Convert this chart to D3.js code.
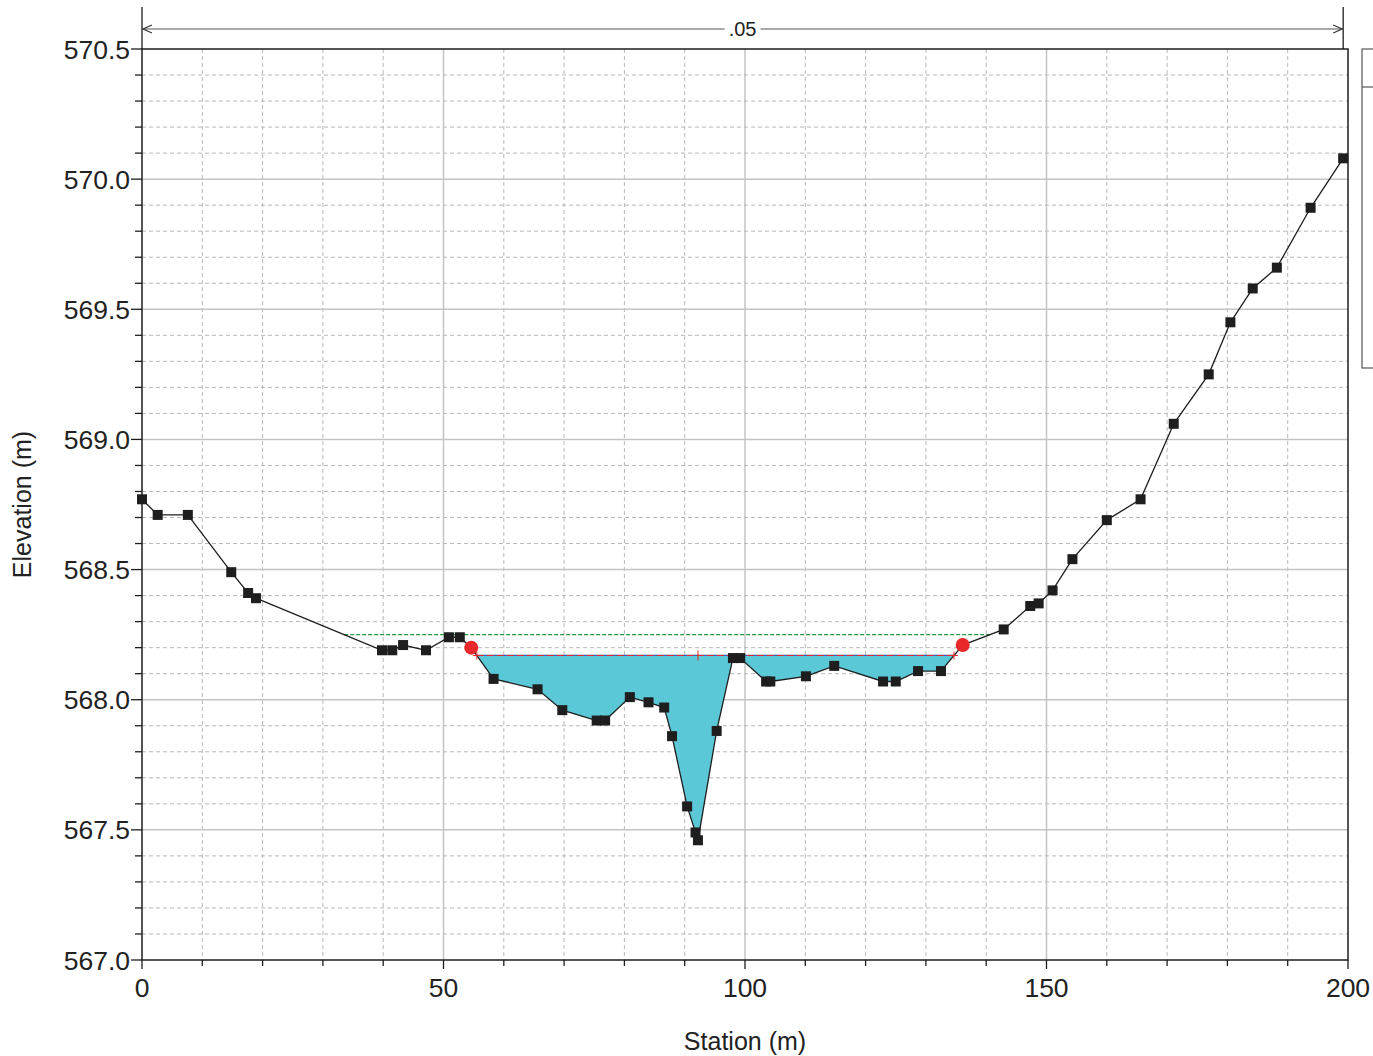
<!DOCTYPE html>
<html>
<head>
<meta charset="utf-8">
<script src="https://cdn.jsdelivr.net/npm/d3@7"></script>
<style>
  html, body { margin: 0; padding: 0; background: #fff; }
  svg { display: block; font-family: "Liberation Sans", Arial, sans-serif; }
</style>
</head>
<body>
<svg id="chart" width="1373" height="1056"></svg>
<script>
// Ground survey points of the cross section (station in m, elevation in m)
const stations = [0, 2.6, 7.6, 14.8, 17.6, 18.9, 39.8, 41.5, 43.3, 47.1, 50.9, 52.7, 54.6,
  58.3, 65.6, 69.7, 75.4, 76.8, 80.9, 84.0, 86.6, 87.9, 90.4, 91.8, 92.2, 95.3, 98.0, 99.2,
  103.5, 104.2, 110.1, 114.8, 122.9, 125.0, 128.7, 132.5, 136.1, 142.9, 147.3, 148.7, 151.0,
  154.3, 160.0, 165.6, 171.1, 176.9, 180.5, 184.2, 188.2, 193.8, 199.2];
const elevations = [568.77, 568.71, 568.71, 568.49, 568.41, 568.39, 568.19, 568.19, 568.21, 568.19, 568.24, 568.24, 568.20,
  568.08, 568.04, 567.96, 567.92, 567.92, 568.01, 567.99, 567.97, 567.86, 567.59, 567.49, 567.46, 567.88, 568.16, 568.16,
  568.07, 568.07, 568.09, 568.13, 568.07, 568.07, 568.11, 568.11, 568.21, 568.27, 568.36, 568.37, 568.42,
  568.54, 568.69, 568.77, 569.06, 569.25, 569.45, 569.58, 569.66, 569.89, 570.08];

// Bank stations (red markers)
const bankStations = [54.6, 136.1];
const bankElevations = [568.20, 568.21];

// Water surface and energy grade elevations
const waterSurface = 568.17;
const energyGrade = 568.25;

// Manning's n label shown over the section
const roughnessLabel = ".05";

// Axis ticks
const xTicks = [0, 50, 100, 150, 200];
const yTicks = [567.0, 567.5, 568.0, 568.5, 569.0, 569.5, 570.0, 570.5];

const xTitle = "Station (m)";
const yTitle = "Elevation (m)";

// ---------------------------------------------------------------
const svg = d3.select("#chart");
const plotL = 142, plotR = 1348, plotT = 49, plotB = 960;

const x = d3.scaleLinear().domain([0, 200]).range([plotL, plotR]);
const y = d3.scaleLinear().domain([567.0, 570.5]).range([plotB, plotT]);

const ground = stations.map((s, i) => ({ s, z: elevations[i] }));

// Grid: minor dashed, major solid
const gridG = svg.append("g");
d3.range(10, 200, 10).forEach(v => {
  const major = v % 50 === 0;
  gridG.append("line")
    .attr("x1", x(v)).attr("x2", x(v)).attr("y1", plotT).attr("y2", plotB)
    .attr("stroke", major ? "#c4c4c4" : "#b8b8b8")
    .attr("stroke-width", major ? 1.5 : 1)
    .attr("stroke-dasharray", major ? null : "4,3");
});
d3.range(1, 35).forEach(k => {
  const v = 567.0 + k * 0.1;
  const major = k % 5 === 0;
  gridG.append("line")
    .attr("x1", plotL).attr("x2", plotR).attr("y1", y(v)).attr("y2", y(v))
    .attr("stroke", major ? "#c4c4c4" : "#b8b8b8")
    .attr("stroke-width", major ? 1.5 : 1)
    .attr("stroke-dasharray", major ? null : "4,3");
});

// Find where the ground crosses a level on each side of the thalweg
function crossings(level) {
  const iMin = d3.minIndex(ground, d => d.z);
  let i = iMin;
  while (i > 0 && ground[i - 1].z <= level) i--;
  const a = ground[i - 1], b = ground[i];
  const sL = a.s + (a.z - level) / (a.z - b.z) * (b.s - a.s);
  let j = iMin;
  while (j < ground.length - 1 && ground[j + 1].z <= level) j++;
  const c = ground[j], d = ground[j + 1];
  const sR = c.s + (level - c.z) / (d.z - c.z) * (d.s - c.s);
  return { sL, sR, iL: i, iR: j };
}

// Wetted area
const wet = crossings(waterSurface);
const wetPts = [{ s: wet.sL, z: waterSurface }]
  .concat(ground.slice(wet.iL, wet.iR + 1))
  .concat([{ s: wet.sR, z: waterSurface }]);
svg.append("path")
  .datum(wetPts)
  .attr("fill", "#5bc8d7")
  .attr("d", d3.area().x(d => x(d.s)).y0(y(waterSurface)).y1(d => y(d.z)));

// Water surface line
svg.append("line")
  .attr("x1", x(wet.sL)).attr("x2", x(wet.sR))
  .attr("y1", y(waterSurface)).attr("y2", y(waterSurface))
  .attr("stroke", "#2f5fb8").attr("stroke-width", 1.2);
svg.append("line")
  .attr("x1", x(wet.sL)).attr("x2", x(wet.sR))
  .attr("y1", y(waterSurface)).attr("y2", y(waterSurface))
  .attr("stroke", "#e8282b").attr("stroke-width", 1).attr("stroke-dasharray", "7,3");

// Energy grade line
const eg = crossings(energyGrade);
svg.append("line")
  .attr("x1", x(eg.sL)).attr("x2", x(eg.sR))
  .attr("y1", y(energyGrade)).attr("y2", y(energyGrade))
  .attr("stroke", "#1f9a3c").attr("stroke-width", 1.2).attr("stroke-dasharray", "4,2");

// Ground profile
svg.append("path")
  .datum(ground)
  .attr("fill", "none").attr("stroke", "#1e1e1e").attr("stroke-width", 1.3)
  .attr("d", d3.line().x(d => x(d.s)).y(d => y(d.z)));

// Survey point markers
svg.append("g").selectAll("rect")
  .data(ground.filter(d => !bankStations.includes(d.s)))
  .join("rect")
  .attr("x", d => x(d.s) - 5).attr("y", d => y(d.z) - 5)
  .attr("width", 10).attr("height", 10)
  .attr("fill", "#1e1e1e");

// Water edge markers and thalweg tick
[wet.sL, wet.sR].forEach(s => {
  const cx = x(s), cy = y(waterSurface);
  svg.append("path")
    .attr("d", `M${cx - 4},${cy}H${cx + 4}M${cx},${cy - 4}V${cy + 4}`)
    .attr("stroke", "#e8282b").attr("stroke-width", 1);
});
const thalweg = ground[d3.minIndex(ground, d => d.z)];
svg.append("line")
  .attr("x1", x(thalweg.s)).attr("x2", x(thalweg.s))
  .attr("y1", y(waterSurface) - 5).attr("y2", y(waterSurface) + 5)
  .attr("stroke", "#e8282b").attr("stroke-width", 1);

// Bank stations
svg.append("g").selectAll("circle")
  .data(bankStations.map((s, i) => ({ s, z: bankElevations[i] })))
  .join("circle")
  .attr("cx", d => x(d.s)).attr("cy", d => y(d.z)).attr("r", 7)
  .attr("fill", "#e8282b");

// Frame
svg.append("rect")
  .attr("x", plotL).attr("y", plotT).attr("width", plotR - plotL).attr("height", plotB - plotT)
  .attr("fill", "none").attr("stroke", "#1e1e1e").attr("stroke-width", 1.5);

// Axes
const yAxis = svg.append("g");
d3.range(0, 36).forEach(k => {
  const v = 567.0 + k * 0.1;
  const major = k % 5 === 0;
  yAxis.append("line")
    .attr("x1", plotL - (major ? 11 : 7)).attr("x2", plotL)
    .attr("y1", y(v)).attr("y2", y(v))
    .attr("stroke", "#1e1e1e").attr("stroke-width", 1.3);
});
yAxis.selectAll("text").data(yTicks).join("text")
  .attr("x", plotL - 12).attr("y", d => y(d)).attr("dy", "0.36em")
  .attr("text-anchor", "end").attr("font-size", 26.5).attr("fill", "#222")
  .text(d => d3.format(".1f")(d));

const xAxis = svg.append("g");
d3.range(0, 201, 10).forEach(v => {
  const major = v % 50 === 0;
  xAxis.append("line")
    .attr("x1", x(v)).attr("x2", x(v))
    .attr("y1", plotB).attr("y2", plotB + (major ? 9 : 6))
    .attr("stroke", "#1e1e1e").attr("stroke-width", 1.3);
});
xAxis.selectAll("text").data(xTicks).join("text")
  .attr("x", d => x(d)).attr("y", 997)
  .attr("text-anchor", "middle").attr("font-size", 26.5).attr("fill", "#222")
  .text(d => d);

svg.append("text")
  .attr("x", (plotL + plotR) / 2).attr("y", 1050)
  .attr("text-anchor", "middle").attr("font-size", 25).attr("fill", "#222")
  .text(xTitle);
svg.append("text")
  .attr("transform", `translate(31,${(plotT + plotB) / 2}) rotate(-90)`)
  .attr("text-anchor", "middle").attr("font-size", 25).attr("fill", "#222")
  .text(yTitle);

// Roughness extent arrow above the section
const arrowY = 29, aL = plotL, aR = x(199.2);
svg.append("line").attr("x1", aL).attr("x2", aL).attr("y1", 7).attr("y2", plotT)
  .attr("stroke", "#1e1e1e").attr("stroke-width", 1.3);
svg.append("line").attr("x1", aR).attr("x2", aR).attr("y1", 7).attr("y2", plotT)
  .attr("stroke", "#1e1e1e").attr("stroke-width", 1.3);
svg.append("line").attr("x1", aL).attr("x2", aR).attr("y1", arrowY).attr("y2", arrowY)
  .attr("stroke", "#555").attr("stroke-width", 1.2);
svg.append("path")
  .attr("d", `M${aL + 10},${arrowY - 4}L${aL + 1},${arrowY}L${aL + 10},${arrowY + 4}`)
  .attr("fill", "none").attr("stroke", "#333").attr("stroke-width", 1.2);
svg.append("path")
  .attr("d", `M${aR - 10},${arrowY - 4}L${aR - 1},${arrowY}L${aR - 10},${arrowY + 4}`)
  .attr("fill", "none").attr("stroke", "#333").attr("stroke-width", 1.2);
const midX = (aL + aR) / 2;
svg.append("rect").attr("x", midX - 18).attr("y", arrowY - 10).attr("width", 36).attr("height", 20)
  .attr("fill", "#fff");
svg.append("text")
  .attr("x", midX).attr("y", arrowY).attr("dy", "0.36em")
  .attr("text-anchor", "middle").attr("font-size", 20).attr("fill", "#222")
  .text(roughnessLabel);

// Legend frame at the right edge
svg.append("rect").attr("x", 1362).attr("y", plotT).attr("width", 40).attr("height", 319)
  .attr("fill", "#fff").attr("stroke", "#555").attr("stroke-width", 1.2);
svg.append("line").attr("x1", 1362).attr("x2", 1373).attr("y1", 87).attr("y2", 87)
  .attr("stroke", "#555").attr("stroke-width", 1.2);
</script>
</body>
</html>
